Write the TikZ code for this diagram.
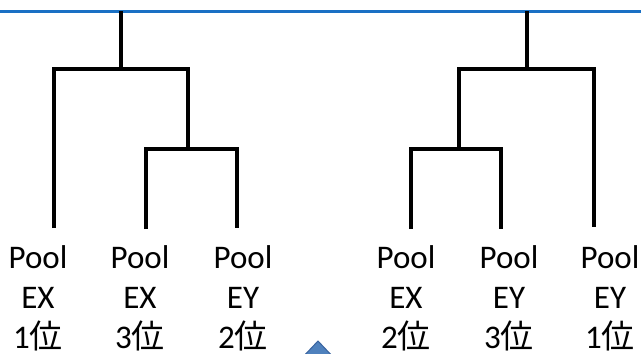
\documentclass[tikz,border=0pt]{standalone}
\usepackage{fontspec}
\setmainfont{Carlito}
\newfontfamily\cjk{Noto Sans CJK JP}
\definecolor{lineblue}{HTML}{1A70C4}
\definecolor{triblue}{HTML}{4F81BD}
\definecolor{triedge}{HTML}{3A64A0}

\begin{document}
\begin{tikzpicture}
[
    x=1pt, y=-1pt,
    branch/.style={line width=4pt, line join=miter},
    topline/.style={line width=3pt, lineblue},
    pool/.style={anchor=base, inner sep=0pt, align=center, font=\fontsize{33}{40}\selectfont},
]
\useasboundingbox (0,0) rectangle (641,354);
\clip (0,0) rectangle (641,354);
\draw[topline] (0,11) -- (641,11);

% left tree
\coordinate (Ltop) at (121,11);
\coordinate (Lj) at (121,69);
\coordinate (Lsub) at (188,149);
\coordinate (t1) at (54,228);
\coordinate (t2) at (146,229);
\coordinate (t3) at (237,228);
\draw[branch] (Ltop) -- (Lj);
\draw[branch] (t1) |- (Lj) -| (Lsub);
\draw[branch] (t2) |- (Lsub) -| (t3);

% right tree
\coordinate (Rtop) at (527,11);
\coordinate (Rj) at (527,69);
\coordinate (Rsub) at (459,149);
\coordinate (t4) at (411,229);
\coordinate (t5) at (501,229);
\coordinate (t6) at (594,227);
\draw[branch] (Rtop) -- (Rj);
\draw[branch] (Rsub) |- (Rj) -| (t6);
\draw[branch] (t4) |- (Rsub) -| (t5);

\node[pool] (lEX1) at (38,348) {Pool\\EX\\1{\cjk 位}};
\node[pool] (lEX3) at (140,348) {Pool\\EX\\3{\cjk 位}};
\node[pool] (lEY2) at (243,348) {Pool\\EY\\2{\cjk 位}};
\node[pool] (rEX2) at (406,348) {Pool\\EX\\2{\cjk 位}};
\node[pool] (rEY3) at (509,348) {Pool\\EY\\3{\cjk 位}};
\node[pool] (rEY1) at (610,348) {Pool\\EY\\1{\cjk 位}};

\filldraw[fill=triblue, draw=triedge, line width=1pt] (318,341) -- (336,360) -- (300,360) -- cycle;
\end{tikzpicture}
\end{document}
